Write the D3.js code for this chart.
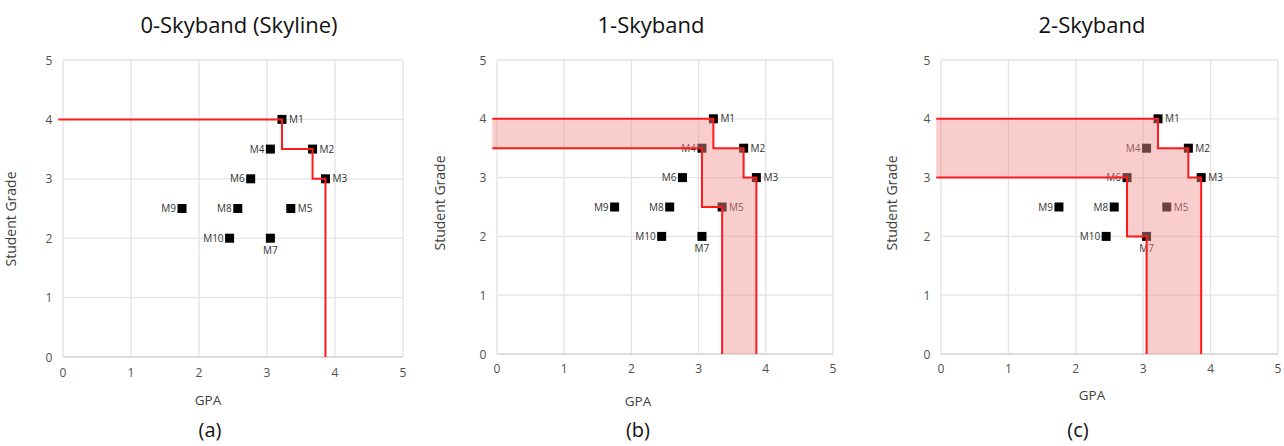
<!DOCTYPE html>
<html>
<head>
<meta charset="utf-8">
<script src="https://cdn.jsdelivr.net/npm/d3@7"></script>
<style>
  body { margin: 0; background: #fff; }
  svg { display: block; font-family: "Open Sans", sans-serif; }
</style>
</head>
<body>
<div class="container"></div>
<script>
// movies: GPA vs student grade
const names = ["M1", "M2", "M3", "M4", "M5", "M6", "M7", "M8", "M9", "M10"]
const gpa = [3.22, 3.67, 3.86, 3.05, 3.35, 2.76, 3.05, 2.57, 1.75, 2.45]
const grade = [4, 3.5, 3, 3.5, 2.5, 3, 2, 2.5, 2.5, 2]

// step corners (curveStepAfter) of the band borders
const skylineGpa = [-0.07, 3.22, 3.67, 3.86]
const skylineGrade = [4, 3.5, 3, 0]
const band1Gpa = [-0.07, 3.05, 3.35]
const band1Grade = [3.5, 2.5, 0]
const band2Gpa = [-0.07, 2.76, 3.05]
const band2Grade = [3, 2, 0]

const titles = ["0-Skyband (Skyline)", "1-Skyband", "2-Skyband"]
const captions = ["(a)", "(b)", "(c)"]
const ticks = [0, 1, 2, 3, 4, 5]

const labelSide = {M1: "right", M2: "right", M3: "right", M5: "right", M7: "below",
                   M4: "left", M6: "left", M8: "left", M9: "left", M10: "left"}

const panels = [
  {x0: 63, x1: 403, y0: 357, y1: 60, inner: null, title: 239, cap: 210, gpaX: 208, gpaY: 405, sgX: 16, sgY: 219, tickY: 377},
  {x0: 497, x1: 833, y0: 354, y1: 60, inner: [band1Gpa, band1Grade], title: 651, cap: 638, gpaX: 638, gpaY: 406, sgX: 445, sgY: 203, tickY: 373},
  {x0: 941, x1: 1278, y0: 354, y1: 60, inner: [band2Gpa, band2Grade], title: 1092, cap: 1078, gpaX: 1092, gpaY: 400, sgX: 897, sgY: 203, tickY: 373}
]

const svg = d3.select(".container").append("svg")
  .attr("width", 1284)
  .attr("height", 446)

// expand step corners into a list of points
function stepPts(xs, ys) {
  let pts = []
  for (let i = 0; i < xs.length; i++) {
    if (i > 0) pts.push([xs[i], ys[i - 1]])
    pts.push([xs[i], ys[i]])
  }
  return pts
}

panels.forEach((p, k) => {
  const x = d3.scaleLinear().domain([0, 5]).range([p.x0, p.x1])
  const y = d3.scaleLinear().domain([0, 5]).range([p.y0, p.y1])
  const g = svg.append("g")

  // grid
  g.selectAll(".vg").data(ticks).enter().append("line")
    .attr("x1", d => x(d)).attr("x2", d => x(d))
    .attr("y1", y(0)).attr("y2", y(5))
    .attr("stroke", "#e3e3e3").attr("stroke-width", 1.3)
  g.selectAll(".hg").data(ticks).enter().append("line")
    .attr("x1", x(0)).attr("x2", x(5))
    .attr("y1", d => y(d)).attr("y2", d => y(d))
    .attr("stroke", d => d === 0 ? "#d0d0d0" : "#e3e3e3").attr("stroke-width", 1.3)

  // tick labels
  g.selectAll(".xt").data(ticks).enter().append("text")
    .attr("x", d => x(d)).attr("y", p.tickY)
    .attr("text-anchor", "middle")
    .attr("font-size", 12).attr("fill", "#505050")
    .text(d => d)
  g.selectAll(".yt").data(ticks).enter().append("text")
    .attr("x", x(0) - 14).attr("y", d => y(d) + 4.5)
    .attr("text-anchor", "middle")
    .attr("font-size", 12).attr("fill", "#505050")
    .text(d => d)

  // points
  g.selectAll(".pt").data(names).enter().append("rect")
    .attr("x", (d, i) => x(gpa[i]) - 4.5)
    .attr("y", (d, i) => y(grade[i]) - 4.5)
    .attr("width", 9).attr("height", 9)
    .attr("fill", "#000")

  g.selectAll(".lb").data(names).enter().append("text")
    .attr("x", (d, i) => {
      const s = labelSide[d]
      return s === "right" ? x(gpa[i]) + 7 : s === "left" ? x(gpa[i]) - 6 : x(gpa[i])
    })
    .attr("y", (d, i) => labelSide[d] === "below" ? y(grade[i]) + 16 : y(grade[i]) + 3.5)
    .attr("text-anchor", d => labelSide[d] === "right" ? "start" : labelSide[d] === "left" ? "end" : "middle")
    .attr("font-size", 10).attr("fill", "#333")
    .text(d => d)

  const line = d3.line().x(d => x(d[0])).y(d => y(d[1]))
  const outer = stepPts(skylineGpa, skylineGrade)

  if (p.inner) {
    const inner = stepPts(p.inner[0], p.inner[1])
    g.append("path")
      .attr("d", line(outer.concat(inner.slice().reverse())) + "Z")
      .attr("fill", "rgb(244,144,144)").attr("fill-opacity", 0.45)
    g.append("path")
      .attr("d", line(inner))
      .attr("fill", "none").attr("stroke", "#ff1a1a").attr("stroke-width", 2)
  }
  g.append("path")
    .attr("d", line(outer))
    .attr("fill", "none").attr("stroke", "#ff1a1a").attr("stroke-width", 2)

  // texts
  g.append("text").attr("x", p.title).attr("y", 33)
    .attr("text-anchor", "middle").attr("font-size", 22).attr("fill", "#111")
    .text(titles[k])
  g.append("text").attr("x", p.cap).attr("y", 437)
    .attr("text-anchor", "middle").attr("font-size", 20).attr("fill", "#111")
    .text(captions[k])
  g.append("text").attr("x", p.gpaX).attr("y", p.gpaY)
    .attr("text-anchor", "middle").attr("font-size", 13.5).attr("fill", "#404040")
    .text("GPA")
  g.append("text")
    .attr("transform", `translate(${p.sgX},${p.sgY}) rotate(-90)`)
    .attr("text-anchor", "middle").attr("font-size", 14).attr("fill", "#404040")
    .text("Student Grade")
})
</script>
</body>
</html>
